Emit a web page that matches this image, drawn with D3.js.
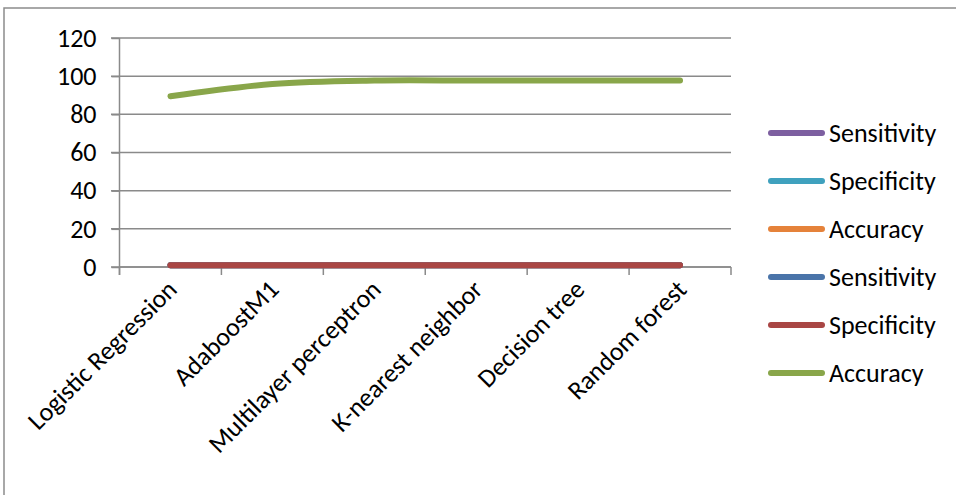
<!DOCTYPE html>
<html>
<head>
<meta charset="utf-8">
<script src="https://cdn.jsdelivr.net/npm/d3@7"></script>
<style>
  html, body { margin: 0; padding: 0; background: #fff; }
  svg text { font-family: Calibri, Carlito, Lato, "Open Sans", sans-serif; fill: #000; }
</style>
</head>
<body>
<svg id="chart" width="956" height="495"></svg>
<script>
// Classifier names along the x axis
const categories = ["Logistic Regression", "AdaboostM1", "Multilayer perceptron",
                    "K-nearest neighbor", "Decision tree", "Random forest"];

// Y axis ticks
const yTicks = [0, 20, 40, 60, 80, 100, 120];

// First group of measures (fractions)
const sensitivityA = [0.89, 0.95, 0.97, 0.97, 0.97, 0.97];
const specificityA = [0.90, 0.96, 0.98, 0.98, 0.98, 0.98];
const accuracyA    = [0.90, 0.96, 0.98, 0.98, 0.98, 0.98];

// Second group of measures
const sensitivityB = [0.89, 0.95, 0.97, 0.97, 0.97, 0.97];
const specificityB = [0.90, 0.96, 0.98, 0.98, 0.98, 0.98];
const accuracyB    = [89.5, 95.9, 97.7, 97.7, 97.7, 97.7];

const seriesNames  = ["Sensitivity", "Specificity", "Accuracy", "Sensitivity", "Specificity", "Accuracy"];
const seriesColors = ["#7D5FA0", "#3FA1BE", "#E5823A", "#4A74A9", "#A94644", "#89A64A"];
const seriesValues = [sensitivityA, specificityA, accuracyA, sensitivityB, specificityB, accuracyB];

const series = seriesNames.map((name, i) => ({
  name, color: seriesColors[i],
  values: seriesValues[i].map((v, j) => ({ cat: categories[j], v }))
}));

const FONT = 26;
const svg = d3.select("#chart");

// Chart area frame
svg.append("rect")
  .attr("x", 4).attr("y", 8).attr("width", 1000).attr("height", 600)
  .attr("fill", "none").attr("stroke", "#8c8c8c").attr("stroke-width", 1.5);

const x = d3.scaleBand().domain(categories).range([119.5, 731]).padding(0);
const y = d3.scaleLinear().domain([0, 120]).range([267, 38]);

const gridColor = "#8a8a8a";

// Horizontal gridlines
svg.append("g")
  .selectAll("line").data(yTicks).join("line")
  .attr("x1", 111).attr("x2", 731)
  .attr("y1", d => y(d)).attr("y2", d => y(d))
  .attr("stroke", gridColor).attr("stroke-width", 1.5);

// Y axis
const yAxis = svg.append("g")
  .attr("transform", "translate(119.5,0)")
  .call(d3.axisLeft(y).tickValues(yTicks).tickSize(8).tickPadding(15));
yAxis.select(".domain").attr("stroke", gridColor).attr("stroke-width", 1.5)
  .attr("d", `M0,${y(120)}V${y(0) + 8}`);
yAxis.selectAll(".tick line").attr("stroke", gridColor).attr("stroke-width", 1.5);
yAxis.selectAll(".tick text").attr("font-size", FONT)
  .style("font-family", "Calibri, Carlito, Lato, 'Open Sans', sans-serif")
  .attr("fill", "#000");

// X axis with category boundaries as tick marks
const xAxis = svg.append("g").attr("transform", `translate(0,${y(0)})`);
xAxis.append("line")
  .attr("x1", 119.5).attr("x2", 731).attr("y1", 0).attr("y2", 0)
  .attr("stroke", gridColor).attr("stroke-width", 1.5);
const bounds = categories.map(c => x(c)).concat([x(categories[categories.length - 1]) + x.bandwidth()]);
xAxis.selectAll("line.tk").data(bounds).join("line").attr("class", "tk")
  .attr("x1", d => d).attr("x2", d => d).attr("y1", 0).attr("y2", 8)
  .attr("stroke", gridColor).attr("stroke-width", 1.5);

// Rotated category labels
xAxis.selectAll("text.cat").data(categories).join("text").attr("class", "cat")
  .attr("transform", d => `translate(${x(d) + x.bandwidth() / 2 + 8},${24}) rotate(-45)`)
  .attr("text-anchor", "end")
  .attr("font-size", FONT)
  .text(d => d);

// Series lines (smoothed)
const line = d3.line()
  .x(d => x(d.cat) + x.bandwidth() / 2)
  .y(d => y(d.v))
  .curve(d3.curveCatmullRom.alpha(0.5));

svg.append("g").selectAll("path").data(series).join("path")
  .attr("d", d => line(d.values))
  .attr("fill", "none")
  .attr("stroke", d => d.color)
  .attr("stroke-width", 6)
  .attr("stroke-linecap", "round")
  .attr("stroke-linejoin", "round");

// Legend
const legend = svg.append("g");
const rows = legend.selectAll("g").data(series).join("g")
  .attr("transform", (d, i) => `translate(0,${133 + i * 48})`);
rows.append("line")
  .attr("x1", 771).attr("x2", 822).attr("y1", 0).attr("y2", 0)
  .attr("stroke", d => d.color).attr("stroke-width", 6).attr("stroke-linecap", "round");
rows.append("text")
  .attr("x", 829).attr("y", 0).attr("dy", "0.35em")
  .attr("font-size", FONT)
  .text(d => d.name);
</script>
</body>
</html>
